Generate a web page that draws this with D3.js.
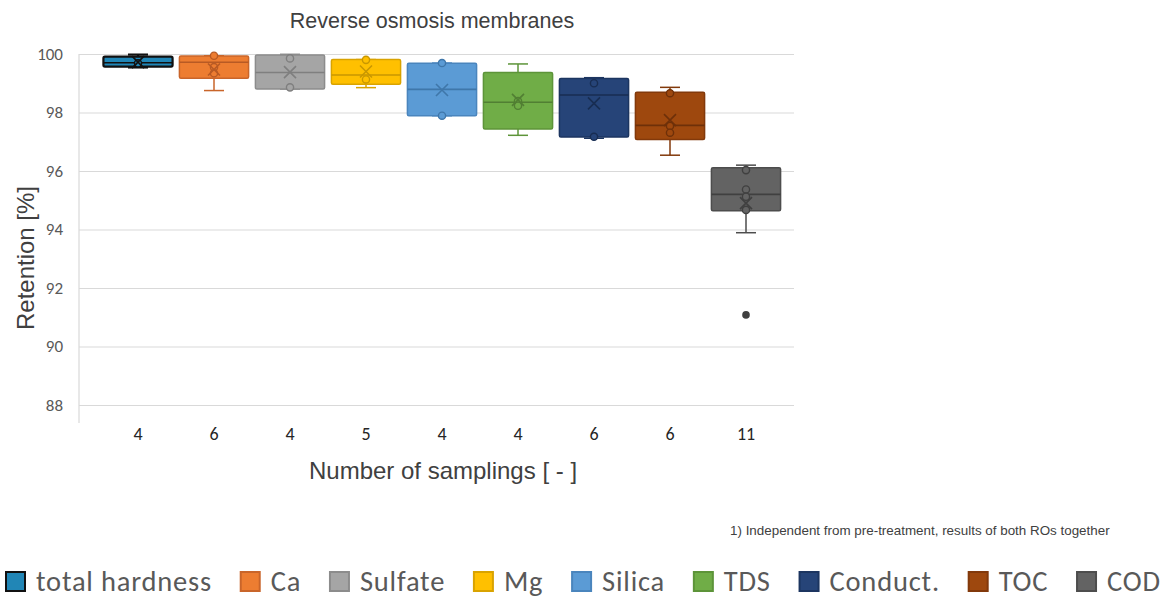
<!DOCTYPE html>
<html><head><meta charset="utf-8">
<script src="https://cdn.jsdelivr.net/npm/d3@7"></script>
<style>body{margin:0;background:#fff} svg{display:block}</style>
</head><body><svg id="c" width="1165" height="599"></svg>
<script>
// ---- data ----
const categories = ["total hardness","Ca","Sulfate","Mg","Silica","TDS","Conduct.","TOC","COD"];
const samplings  = ["4","6","4","5","4","4","6","6","11"];
const whiskerLow  = [99.54, 98.75, 98.80, 98.85, 97.89, 97.22, 97.12, 96.54, 93.89];
const q1          = [99.57, 99.17, 98.80, 98.97, 97.89, 97.44, 97.16, 97.08, 94.64];
const median      = [99.70, 99.72, 99.37, 99.28, 98.79, 98.35, 98.60, 97.56, 95.20];
const q3          = [99.91, 99.93, 99.97, 99.81, 99.68, 99.37, 99.16, 98.69, 96.11];
const whiskerHigh = [99.98, 99.94, 99.99, 99.81, 99.69, 99.66, 99.19, 98.86, 96.20];
const means       = [99.72, 99.47, 99.38, 99.40, 98.77, 98.43, 98.31, 97.74, 94.90];
const innerPoints = [[99.68],[99.94,99.55,99.34],[99.85,98.86],[99.80,99.13],[99.69,97.89],
                     [98.39,98.23],[99.00,97.17],[98.66,97.54,97.31],[96.03,95.37,95.12,94.67]];
const outliers    = [[],[],[],[],[],[],[],[],[91.08]];
const yTicks = [88,90,92,94,96,98,100];
const fills   = ["#2186b6","#ed7d31","#a5a5a5","#ffc000","#5b9bd5","#70ad47","#264478","#9e480e","#636363"];
const strokes = ["#111111","#c9652a","#8c8c8c","#d9a300","#4a85bd","#5d9439","#1c3560","#82390b","#4d4d4d"];
const marks   = ["#111111","#b85a24","#7f7f7f","#c99700","#3f77aa","#517f33","#182d52","#6e3009","#404040"];

// ---- chart ----
const svg = d3.select("#c");
const plotL = 79, plotR = 794, axisBottom = 423;
const x = d3.scaleBand().domain(categories).range([100,784]).paddingInner(0.09).paddingOuter(0.045);
const y = d3.scaleLinear().domain([88,100]).range([405,54]);
const sans = "'Liberation Sans', Arial, sans-serif";
const cal = "Carlito, Lato, 'Open Sans', sans-serif";

// title
svg.append("text").attr("x",432).attr("y",28).attr("text-anchor","middle")
  .attr("font-family",sans).attr("font-size",21.5).attr("fill","#404040").text("Reverse osmosis membranes");

// grid + y axis
const gy = svg.append("g").attr("transform",`translate(${plotL},0)`)
  .call(d3.axisLeft(y).tickValues(yTicks).tickSize(-(plotR-plotL)).tickPadding(16));
gy.select(".domain").remove();
gy.selectAll(".tick line").attr("stroke","#d9d9d9").attr("stroke-width",1.2);
gy.selectAll(".tick text").attr("font-family",cal).attr("font-size",17).attr("fill","#595959");
svg.append("line").attr("x1",plotL).attr("x2",plotL).attr("y1",y(100)).attr("y2",axisBottom)
  .attr("stroke","#d9d9d9").attr("stroke-width",1.2);

// x axis labels
const gx = svg.append("g").attr("transform",`translate(0,${axisBottom})`)
  .call(d3.axisBottom(x).tickSize(0).tickPadding(4).tickFormat((d,i)=>samplings[i]));
gx.select(".domain").remove();
gx.selectAll(".tick text").attr("font-family",cal).attr("font-size",18).attr("fill","#262626");

// axis titles
svg.append("text").attr("x",443).attr("y",479).attr("text-anchor","middle")
  .attr("font-family",sans).attr("font-size",24).attr("fill","#404040").text("Number of samplings [ - ]");
svg.append("text").attr("transform","translate(25,258) rotate(-90)").attr("text-anchor","middle")
  .attr("dominant-baseline","central")
  .attr("font-family",sans).attr("font-size",24).attr("fill","#404040").text("Retention [%]");

// boxes
const bw = x.bandwidth(), cap = 20;
categories.forEach((c,i)=>{
  const g = svg.append("g");
  const cx = x(c) + bw/2;
  const sw = i===0 ? 2.2 : 1.5;
  [[whiskerHigh[i], q3[i]],[whiskerLow[i], q1[i]]].forEach(([a,b])=>{
    g.append("line").attr("x1",cx).attr("x2",cx).attr("y1",y(a)).attr("y2",y(b))
      .attr("stroke",strokes[i]).attr("stroke-width",sw);
    g.append("line").attr("x1",cx-cap/2).attr("x2",cx+cap/2).attr("y1",y(a)).attr("y2",y(a))
      .attr("stroke",strokes[i]).attr("stroke-width",sw);
  });
  g.append("rect").attr("x",x(c)).attr("width",bw).attr("y",y(q3[i]))
    .attr("height",Math.max(1,y(q1[i])-y(q3[i]))).attr("rx",1.5)
    .attr("fill",fills[i]).attr("stroke",strokes[i]).attr("stroke-width",sw);
  g.append("line").attr("x1",x(c)).attr("x2",x(c)+bw).attr("y1",y(median[i])).attr("y2",y(median[i]))
    .attr("stroke",marks[i]).attr("stroke-width",1.6);
  innerPoints[i].forEach(v=>{
    g.append("circle").attr("cx",cx).attr("cy",y(v)).attr("r",3.6)
      .attr("fill",fills[i]).attr("stroke",marks[i]).attr("stroke-width",1.4);
  });
  const my = y(means[i]), s = 6;
  g.append("path").attr("d",`M${cx-s},${my-s}L${cx+s},${my+s}M${cx-s},${my+s}L${cx+s},${my-s}`)
    .attr("stroke",marks[i]).attr("stroke-width",1.6).attr("fill","none");
  outliers[i].forEach(v=>{
    g.append("circle").attr("cx",cx).attr("cy",y(v)).attr("r",3.8).attr("fill",marks[i]);
  });
});

// footnote
svg.append("text").attr("x",730).attr("y",535).attr("font-family",sans).attr("font-size",13.4)
  .attr("fill","#404040").text("1) Independent from pre-treatment, results of both ROs together");

// legend
const legStart = 5, legEnd = 1160, swS = 21, gapT = 10;
const leg = svg.append("g");
const fs = 28.5, ls = 0.8;
const tmp = categories.map(c=>leg.append("text").attr("font-family",cal).attr("font-size",fs)
  .attr("letter-spacing",ls).text(c));
const tw = tmp.map(t=>t.node().getComputedTextLength() - ls);
tmp.forEach(t=>t.remove());
const gapI = ((legEnd-legStart) - categories.length*(swS+gapT) - d3.sum(tw)) / (categories.length-1);
let lx = legStart;
categories.forEach((c,i)=>{
  leg.append("rect").attr("x",lx+1).attr("y",572).attr("width",swS-2).attr("height",swS-2)
    .attr("fill",fills[i]).attr("stroke",strokes[i]).attr("stroke-width",2);
  lx += swS + gapT;
  leg.append("text").attr("x",lx).attr("y",581).attr("dominant-baseline","central")
    .attr("font-family",cal).attr("font-size",fs).attr("letter-spacing",ls).attr("fill","#595959").text(c);
  lx += tw[i] + gapI;
});
</script></body></html>
